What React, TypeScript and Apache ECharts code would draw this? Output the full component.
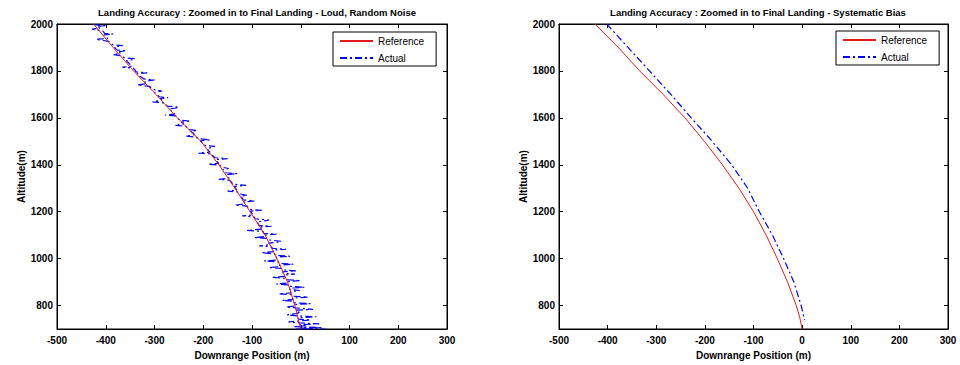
import React, { useEffect, useRef } from "react";
import * as echarts from "echarts";

const xTicks = [-500, -400, -300, -200, -100, 0, 100, 200, 300];
const yTicks = [800, 1000, 1200, 1400, 1600, 1800, 2000];

const titleLeft = "Landing Accuracy : Zoomed in to Final Landing - Loud, Random Noise";
const titleRight = "Landing Accuracy : Zoomed in to Final Landing - Systematic Bias";
const xName = "Downrange Position (m)";
const yName = "Altitude(m)";
const legendNames = ["Reference", "Actual"];

// [downrange, altitude]
const leftReference: number[][] = [
  [-425, 2000], [-385, 1900], [-343, 1800], [-297, 1700], [-253, 1600], [-205, 1500],
  [-168, 1400], [-135, 1300], [-104, 1200], [-73, 1100], [-49, 1000], [-27, 900],
  [-12, 800], [0, 700],
];

const leftActual: number[][] = [
  [-425, 2000], [-420, 1996], [-398, 1993], [-418, 1990], [-412, 1982], [-428, 1978],
  [-406, 1970], [-402, 1960], [-385, 1957], [-404, 1954], [-400, 1946], [-396, 1938],
  [-420, 1935], [-410, 1931], [-394, 1926], [-390, 1918], [-385, 1911], [-365, 1908],
  [-382, 1903], [-380, 1895], [-376, 1889], [-358, 1886], [-372, 1882], [-370, 1874],
  [-385, 1870], [-366, 1864], [-362, 1856], [-340, 1852], [-345, 1848], [-358, 1844],
  [-354, 1836], [-350, 1826], [-346, 1820], [-366, 1816], [-344, 1812], [-340, 1804],
  [-338, 1796], [-315, 1792], [-336, 1788], [-332, 1780], [-326, 1772], [-322, 1766],
  [-300, 1762], [-310, 1759], [-320, 1754], [-316, 1746], [-335, 1740], [-310, 1734],
  [-306, 1726], [-300, 1720], [-285, 1714], [-300, 1708], [-296, 1700], [-290, 1690],
  [-272, 1686], [-288, 1682], [-285, 1676], [-304, 1668], [-280, 1664], [-276, 1656],
  [-274, 1650], [-250, 1646], [-255, 1642], [-270, 1638], [-266, 1630], [-262, 1622],
  [-258, 1616], [-278, 1612], [-256, 1608], [-252, 1598], [-248, 1590], [-226, 1586],
  [-245, 1582], [-240, 1574], [-258, 1568], [-236, 1564], [-232, 1556], [-228, 1550],
  [-212, 1546], [-226, 1542], [-220, 1534], [-218, 1528], [-236, 1522], [-214, 1518],
  [-212, 1512], [-186, 1506], [-206, 1502], [-203, 1496], [-198, 1488], [-196, 1482],
  [-176, 1478], [-182, 1474], [-192, 1470], [-190, 1462], [-186, 1454], [-210, 1450],
  [-184, 1446], [-180, 1438], [-176, 1430], [-150, 1426], [-174, 1422], [-172, 1414],
  [-168, 1406], [-190, 1402], [-166, 1398], [-162, 1390], [-148, 1384], [-160, 1380],
  [-156, 1372], [-154, 1366], [-130, 1362], [-150, 1358], [-150, 1350], [-147, 1342],
  [-168, 1338], [-146, 1334], [-142, 1326], [-140, 1318], [-112, 1312], [-136, 1308],
  [-134, 1300], [-131, 1292], [-150, 1288], [-128, 1284], [-126, 1276], [-110, 1270],
  [-124, 1266], [-120, 1258], [-118, 1250], [-95, 1246], [-116, 1242], [-114, 1234],
  [-135, 1228], [-110, 1224], [-108, 1216], [-106, 1210], [-80, 1206], [-104, 1202],
  [-100, 1194], [-98, 1186], [-120, 1182], [-96, 1178], [-94, 1170], [-65, 1164],
  [-78, 1160], [-90, 1156], [-87, 1148], [-86, 1142], [-60, 1138], [-84, 1134],
  [-80, 1126], [-110, 1120], [-78, 1116], [-76, 1108], [-50, 1104], [-73, 1100],
  [-72, 1094], [-95, 1090], [-70, 1086], [-68, 1080], [-40, 1074], [-48, 1070],
  [-66, 1066], [-62, 1060], [-85, 1054], [-60, 1050], [-58, 1044], [-30, 1040],
  [-57, 1036], [-56, 1030], [-80, 1025], [-54, 1020], [-52, 1014], [-22, 1010],
  [-50, 1006], [-49, 1000], [-48, 994], [-75, 990], [-46, 986], [-45, 980],
  [-15, 976], [-44, 972], [-42, 966], [-65, 962], [-40, 958], [-38, 952],
  [-10, 948], [-37, 944], [-36, 938], [-12, 934], [-34, 930], [-33, 924],
  [-60, 920], [-31, 916], [-30, 910], [0, 906], [-28, 902], [-27, 896],
  [-50, 892], [-25, 888], [-24, 882], [8, 878], [-23, 874], [-22, 868],
  [-2, 864], [-21, 860], [-20, 854], [-45, 850], [-19, 846], [-18, 840],
  [15, 836], [-17, 832], [-16, 826], [-38, 822], [-15, 818], [-14, 812],
  [20, 808], [-13, 804], [-12, 798], [-30, 794], [-11, 790], [25, 784],
  [-10, 780], [-9, 774], [0, 770], [-8, 766], [-28, 760], [-7, 756],
  [32, 752], [-6, 748], [-5, 742], [20, 738], [-4, 734], [-25, 730],
  [-3, 726], [38, 722], [-2, 718], [10, 714], [-15, 710], [45, 706],
  [-1, 704], [25, 702], [-10, 700], [50, 700],
];

const rightReference: number[][] = [
  [-426, 2000], [-378, 1900], [-334, 1800], [-286, 1700], [-241, 1600], [-201, 1500],
  [-164, 1400], [-130, 1300], [-100, 1200], [-74, 1100], [-51, 1000], [-30, 900],
  [-12, 800], [-5, 750], [0, 700],
];

const rightActual: number[][] = [
  [-402, 2000], [-358, 1900], [-314, 1800], [-270, 1700], [-228, 1600], [-185, 1500],
  [-145, 1400], [-112, 1300], [-88, 1200], [-61, 1100], [-38, 1000], [-17, 900],
  [-2, 800], [5, 738],
];

const RED = "#e31a1c";
const BLUE = "#0000ff";
const FONT = "Liberation Sans, Arial, sans-serif";

function makeAxes(gridIndex: number) {
  const xBase = {
    type: "value" as const,
    gridIndex,
    min: -500,
    max: 300,
    interval: 100,
    splitLine: { show: false },
    axisLine: { show: true, onZero: false, lineStyle: { color: "#000", width: 1 } },
    axisTick: { show: true, inside: true, length: 4, lineStyle: { color: "#000" } },
  };
  const yBase = {
    type: "value" as const,
    gridIndex,
    min: 700,
    max: 2000,
    splitLine: { show: false },
    axisLine: { show: true, onZero: false, lineStyle: { color: "#000", width: 1 } },
    axisTick: { show: true, inside: true, length: 4, customValues: yTicks, lineStyle: { color: "#000" } },
  };
  const labelStyle = {
    show: true,
    color: "#000",
    fontWeight: "bold",
    fontSize: 10,
    fontFamily: FONT,
    formatter: (v: number) => String(v),
  };
  const nameStyle = { color: "#000", fontWeight: "bold", fontSize: 10, fontFamily: FONT };
  const xAxes = [
    {
      ...xBase,
      position: "bottom",
      axisLabel: { ...labelStyle, margin: 6, customValues: xTicks },
      name: xName,
      nameLocation: "middle",
      nameGap: 21,
      nameTextStyle: nameStyle,
    },
    { ...xBase, position: "top", axisLabel: { show: false } },
  ];
  const yAxes = [
    {
      ...yBase,
      position: "left",
      axisLabel: { ...labelStyle, margin: 4, customValues: yTicks },
      name: yName,
      nameLocation: "middle",
      nameGap: 30,
      nameRotate: 90,
      nameTextStyle: nameStyle,
    },
    { ...yBase, position: "right", axisLabel: { show: false } },
  ];
  return { xAxes, yAxes };
}

export default function App() {
  const ref = useRef<HTMLDivElement>(null);
  useEffect(() => {
    if (!ref.current) return;
    const chart = echarts.init(ref.current, undefined, { renderer: "svg" });
    const a0 = makeAxes(0);
    const a1 = makeAxes(1);
    const legendBase = {
      orient: "vertical" as const,
      data: legendNames,
      show: true,
      backgroundColor: "#fff",
      borderColor: "#000",
      borderWidth: 1,
      borderRadius: 0,
      padding: [4, 12, 3, 6],
      itemWidth: 33,
      itemHeight: 10,
      itemGap: 7,
      itemStyle: { color: "rgba(0,0,0,0)", borderColor: "rgba(0,0,0,0)", borderWidth: 0 },
      textStyle: { color: "#000", fontSize: 10, fontFamily: FONT },
      selectedMode: false,
    };
    const lineSeries = (name: string, data: number[][], idx: number, color: string, dashed: boolean) => ({
      type: "line",
      name,
      data,
      xAxisIndex: idx,
      yAxisIndex: idx,
      symbol: "none",
      showSymbol: false,
      clip: true,
      lineStyle: dashed
        ? { color, width: 1.2, type: [7, 3, 2, 3] }
        : { color, width: 1 },
      itemStyle: { color },
      z: dashed ? 2 : 3,
    });
    chart.setOption({
      animation: false,
      backgroundColor: "#fff",
      title: [
        {
          text: titleLeft,
          left: 252,
          top: 2,
          textAlign: "center",
          textStyle: { color: "#000", fontWeight: "bold", fontSize: 9.5, fontFamily: FONT },
        },
        {
          text: titleRight,
          left: 753,
          top: 2,
          textAlign: "center",
          textStyle: { color: "#000", fontWeight: "bold", fontSize: 9.5, fontFamily: FONT },
        },
      ],
      legend: [
        { ...legendBase, left: 333, top: 32 },
        { ...legendBase, left: 836, top: 31 },
      ],
      grid: [
        { left: 57, right: 513, top: 24, bottom: 35, show: true, borderColor: "#000", borderWidth: 1, backgroundColor: "#fff" },
        { left: 559, right: 12, top: 24, bottom: 35, show: true, borderColor: "#000", borderWidth: 1, backgroundColor: "#fff" },
      ],
      xAxis: [a0.xAxes[0], a0.xAxes[1], a1.xAxes[0], a1.xAxes[1]].map((a, i) => ({ ...a, gridIndex: i < 2 ? 0 : 1 })),
      yAxis: [a0.yAxes[0], a0.yAxes[1], a1.yAxes[0], a1.yAxes[1]].map((a, i) => ({ ...a, gridIndex: i < 2 ? 0 : 1 })),
      series: [
        lineSeries("Actual", leftActual, 0, BLUE, true),
        lineSeries("Reference", leftReference, 0, RED, false),
        lineSeries("Actual", rightActual, 2, BLUE, true),
        lineSeries("Reference", rightReference, 2, RED, false),
      ],
    });
    return () => chart.dispose();
  }, []);
  return <div ref={ref} style={{ width: 960, height: 365, position: "absolute", left: 0, top: 0 }} />;
}
